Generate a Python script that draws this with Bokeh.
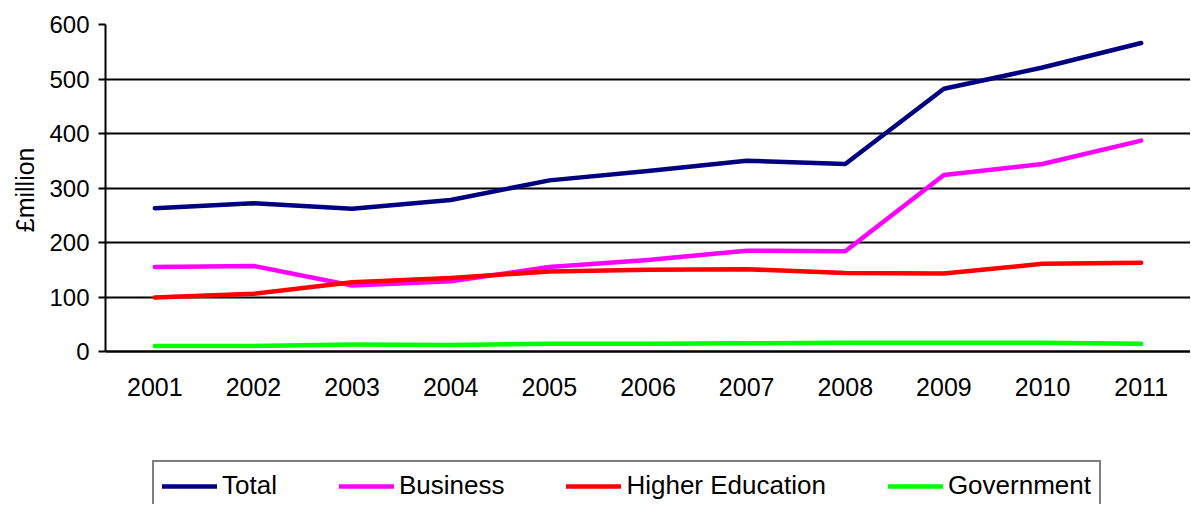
from bokeh.plotting import figure
from bokeh.models import FactorRange, Range1d, Legend, LegendItem, FixedTicker, Title
from bokeh.embed import file_html
from bokeh.resources import INLINE

years = ["2001", "2002", "2003", "2004", "2005", "2006", "2007", "2008", "2009", "2010", "2011"]
total = [263, 272, 262, 278, 314, 331, 350, 344, 482, 521, 566]
business = [155, 157, 121, 129, 155, 168, 185, 184, 324, 344, 387]
higher_education = [99, 106, 127, 135, 147, 150, 151, 144, 143, 161, 163]
government = [10, 10, 13, 12, 14, 14, 15, 16, 16, 16, 14]
y_ticks = [0, 100, 200, 300, 400, 500, 600]
y_title = "£million"

series = [
    ("Total", total, "#000080"),
    ("Business", business, "#FF00FF"),
    ("Higher Education", higher_education, "#FF0000"),
    ("Government", government, "#00FF00"),
]

FONT = "Liberation Sans"

# layout: value axis 0..600 occupies 327 px of a 480 px frame; the rest below
# holds the category labels and the legend
FRAME_H, AXIS_H = 480, 327
y_lo = -(FRAME_H - AXIS_H) * 600 / AXIS_H

p = figure(
    width=1190, height=504,
    x_range=FactorRange(factors=years, range_padding=0),
    y_range=Range1d(y_lo, 600),
    output_backend="svg", toolbar_location=None,
    min_border_left=103, min_border_right=0, min_border_top=24, min_border_bottom=0,
)
p.outline_line_color = None
p.xgrid.grid_line_color = None
p.ygrid.grid_line_color = "black"
p.ygrid.grid_line_width = 2
p.ygrid.ticker = FixedTicker(ticks=y_ticks)

p.yaxis.ticker = FixedTicker(ticks=y_ticks)
p.yaxis.bounds = (0, 600)
p.yaxis.axis_line_color = "black"
p.yaxis.axis_line_width = 2
p.yaxis.major_tick_line_color = "black"
p.yaxis.major_tick_line_width = 2
p.yaxis.major_tick_in = 0
p.yaxis.major_tick_out = 7
p.yaxis.minor_tick_line_color = None
p.yaxis.major_label_standoff = 9
p.yaxis.major_label_text_font = FONT
p.yaxis.major_label_text_font_size = "24px"
p.yaxis.major_label_text_color = "black"

title = Title(
    text=y_title, align="right", offset=123, standoff=16,
    text_font=FONT, text_font_size="25px", text_font_style="normal",
    text_color="black",
)
p.add_layout(title, "left")

p.xaxis.fixed_location = 0
p.xaxis.axis_line_color = "black"
p.xaxis.axis_line_width = 2
p.xaxis.major_tick_line_color = None
p.xaxis.major_tick_in = 0
p.xaxis.major_tick_out = 0
p.xaxis.major_label_standoff = 26
p.xaxis.major_label_text_font = FONT
p.xaxis.major_label_text_font_size = "25px"
p.xaxis.major_label_text_color = "black"

items = []
for name, vals, color in series:
    r = p.line(years, vals, line_color=color, line_width=4.5,
               line_cap="round", line_join="round")
    items.append(LegendItem(label=name, renderers=[r]))

legend = Legend(
    items=items,
    orientation="horizontal",
    location=(47, -7),
    glyph_width=55,
    label_standoff=5,
    spacing=62,
    padding=8,
    margin=0,
    border_line_color="black",
    border_line_width=2,
    background_fill_color="white",
    background_fill_alpha=1,
    label_text_font=FONT,
    label_text_font_size="26px",
    label_text_color="black",
)
p.add_layout(legend, "center")

open("out.html", "w").write(file_html(p, INLINE))
